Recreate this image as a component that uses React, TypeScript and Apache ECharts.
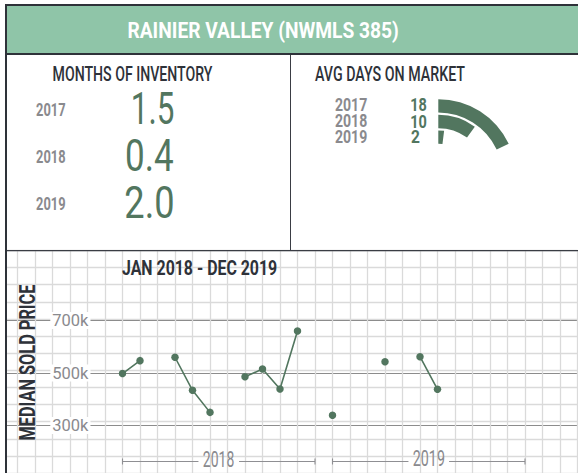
import React, { useEffect, useRef } from 'react';
import * as echarts from 'echarts';

// ---------- data ----------
const months = [
  'Jan 2018', 'Feb 2018', 'Mar 2018', 'Apr 2018', 'May 2018', 'Jun 2018',
  'Jul 2018', 'Aug 2018', 'Sep 2018', 'Oct 2018', 'Nov 2018', 'Dec 2018',
  'Jan 2019', 'Feb 2019', 'Mar 2019', 'Apr 2019', 'May 2019', 'Jun 2019',
  'Jul 2019', 'Aug 2019', 'Sep 2019', 'Oct 2019', 'Nov 2019', 'Dec 2019',
];
const medianPrice: (number | null)[] = [
  498000, 547000, null, 560000, 434000, 350000, null, 486000, 515000, 439000, 660000, null,
  339000, null, null, 543000, null, 562000, 438000, null, null, null, null, null,
];
const priceTicks = [300000, 500000, 700000];
const bracketYears = ['2018', '2019'];
const bracketSpans = [[0, 11], [12, 23]];

const inventoryYears = ['2017', '2018', '2019'];
const inventoryMonths = [1.5, 0.4, 2.0];

const domYears = ['2017', '2018', '2019'];
const domDays = [18, 10, 2];

// ---------- style ----------
const GREEN = '#52765f';
const GRAY = '#8a8a8e';
const DARK = '#2e3239';
const TITLE_BG = '#8fc5a8';
const FONT = 'Roboto';

let mctx: CanvasRenderingContext2D | null = null;
function measure(text: string, size: number, weight: string | number) {
  if (!mctx) mctx = document.createElement('canvas').getContext('2d');
  const c = mctx as CanvasRenderingContext2D;
  c.font = `${weight} ${size}px ${FONT}`;
  const m = c.measureText(text);
  const left = m.actualBoundingBoxLeft ?? 0;
  const right = m.actualBoundingBoxRight ?? m.width;
  return { left, ink: left + right || m.width };
}

function fitText(text: string, L: number, R: number, cy: number, size: number, weight: string | number, fill: string) {
  const m = measure(text, size, weight);
  const s = (R - L) / m.ink;
  return {
    type: 'text',
    x: L + m.left * s,
    y: cy,
    scaleX: s,
    z: 100,
    style: {
      text, fill, fontSize: size, fontWeight: weight, fontFamily: FONT,
      textAlign: 'left', align: 'left', textVerticalAlign: 'middle', verticalAlign: 'middle',
    },
  };
}

export default function App() {
  const ref = useRef<HTMLDivElement>(null);

  useEffect(() => {
    document.body.style.margin = '0';
    if (!ref.current) return;
    const chart = echarts.init(ref.current, null, { renderer: 'svg' });

    const leftRowsY = [109.3, 156.2, 203.8];
    const leftValBoxes = [[133, 173.3], [126.7, 173.3], [126, 173.3]];
    const rightRowsY = [104.7, 121, 136.7];

    const graphics: any[] = [
      { type: 'rect', z: 100, shape: { x: 0, y: 0, width: 5, height: 473 }, style: { fill: '#fff' } },
      { type: 'rect', z: 100, shape: { x: 5, y: 6, width: 573, height: 47 }, style: { fill: TITLE_BG } },
      { type: 'rect', z: 100, shape: { x: 5, y: 4, width: 573, height: 2 }, style: { fill: DARK } },
      { type: 'rect', z: 100, shape: { x: 5, y: 53, width: 573, height: 2 }, style: { fill: DARK } },
      { type: 'rect', z: 100, shape: { x: 5, y: 4, width: 2, height: 469 }, style: { fill: DARK } },
      { type: 'line', z: 100, shape: { x1: 290.5, y1: 55, x2: 290.5, y2: 250.5 }, style: { stroke: '#3a3d44', lineWidth: 1 } },
      { type: 'line', z: 100, shape: { x1: 7, y1: 250.6, x2: 578, y2: 250.6 }, style: { stroke: '#3a3d44', lineWidth: 1.4 } },
      fitText('RAINIER VALLEY (NWMLS 385)', 128.3, 398.3, 30.5, 22, 'bold', '#ffffff'),
      fitText('MONTHS OF INVENTORY', 53.3, 213.3, 73.8, 20, 500, DARK),
      fitText('AVG DAYS ON MARKET', 315, 465, 73.8, 20, 500, DARK),
      fitText('JAN 2018 - DEC 2019', 122, 277, 268, 20, 'bold', DARK),
    ];
    inventoryYears.forEach((y, i) => {
      graphics.push(fitText(y, 36, 65, leftRowsY[i], 18.7, 'bold', GRAY));
      graphics.push(fitText(inventoryMonths[i].toFixed(1), leftValBoxes[i][0], leftValBoxes[i][1], leftRowsY[i], 43.6, 400, GREEN));
    });
    domYears.forEach((y, i) => {
      graphics.push(fitText(y, 335, 366.7, rightRowsY[i], 18.7, 'bold', GRAY));
      const t = String(domDays[i]);
      const w = t.length === 1 ? 8.3 : 15.3;
      graphics.push(fitText(t, 411, 411 + w, rightRowsY[i], 18.7, 'bold', GREEN));
    });
    // rotated axis name
    {
      const text = 'MEDIAN SOLD PRICE';
      const m = measure(text, 21.8, 'bold');
      graphics.push({
        type: 'text', x: 27.7, y: 362.5, rotation: Math.PI / 2, scaleX: 155 / m.ink, z: 100,
        style: {
          text, fill: DARK, fontSize: 21.8, fontWeight: 'bold', fontFamily: FONT,
          textAlign: 'center', align: 'center', textVerticalAlign: 'middle', verticalAlign: 'middle',
        },
      });
    }

    const bracketLabelSize = 22;
    const lightLine = { show: true, lineStyle: { color: '#dadada', width: 1.3 } };

    const option: any = {
      animation: false,
      backgroundColor: '#ffffff',
      grid: [
        { left: 0, top: 250.5, width: 577.5, height: 227.5 },
        { left: 7, right: 0, top: 294.25, height: 157.5 },
        { left: 113.75, top: 294.25, width: 420, height: 157.5 },
      ],
      xAxis: [
        {
          gridIndex: 0, type: 'value', min: 0, max: 33, interval: 1,
          axisLine: { show: false }, axisTick: { show: false }, axisLabel: { show: false },
          splitLine: lightLine,
        },
        { gridIndex: 1, type: 'value', min: 0, max: 1, show: false },
        { gridIndex: 2, type: 'category', data: months, boundaryGap: true, show: false },
      ],
      yAxis: [
        {
          gridIndex: 0, type: 'value', min: 0, max: 13, interval: 1,
          axisLine: { show: false }, axisTick: { show: false }, axisLabel: { show: false },
          splitLine: lightLine,
        },
        {
          gridIndex: 1, type: 'value', min: 200000, max: 800000,
          axisLine: { show: false },
          axisTick: { show: false, customValues: priceTicks },
          axisLabel: {
            customValues: priceTicks,
            inside: true,
            margin: 43.3,
            color: GRAY,
            fontSize: 16.5,
            fontFamily: FONT,
            backgroundColor: '#ffffff',
            padding: [0, 2],
            formatter: (v: number) => `${Math.round(v / 1000)}k`,
          },
          splitLine: { show: true, lineStyle: { color: '#8c8c8c', width: 1.2 } },
        },
        { gridIndex: 2, type: 'value', min: 200000, max: 800000, show: false },
      ],
      polar: { center: [438.3, 177], radius: [32, 79] },
      angleAxis: { type: 'value', min: 0, max: 100, startAngle: 90, clockwise: true, show: false },
      radiusAxis: { type: 'category', data: [...domYears].reverse(), show: false },
      series: [
        {
          type: 'line',
          xAxisIndex: 2, yAxisIndex: 2,
          data: medianPrice,
          connectNulls: false,
          symbol: 'circle', symbolSize: 7.5, showSymbol: true, showAllSymbol: true,
          lineStyle: { color: GREEN, width: 1.6 },
          itemStyle: { color: GREEN },
          z: 5,
          silent: true,
        },
        {
          type: 'custom',
          xAxisIndex: 2, yAxisIndex: 2,
          encode: { x: [0, 1] },
          data: bracketSpans,
          clip: false,
          silent: true,
          renderItem: (params: any, api: any) => {
            const x0 = api.coord([api.value(0), 500000])[0];
            const x1 = api.coord([api.value(1), 500000])[0];
            const y = 461.5;
            const label = bracketYears[params.dataIndex];
            const m = measure(label, bracketLabelSize, 400);
            const s = 30.6 / m.ink;
            const cx = (x0 + x1) / 2;
            const half = 30.6 / 2 + 5;
            const st = { stroke: '#8f8f93', lineWidth: 1.1 };
            return {
              type: 'group',
              children: [
                { type: 'line', shape: { x1: x0, y1: y, x2: cx - half, y2: y }, style: st },
                { type: 'line', shape: { x1: cx + half, y1: y, x2: x1, y2: y }, style: st },
                { type: 'line', shape: { x1: x0, y1: y - 3, x2: x0, y2: y + 3 }, style: st },
                { type: 'line', shape: { x1: x1, y1: y - 3, x2: x1, y2: y + 3 }, style: st },
                {
                  type: 'text', x: cx - 15.3 + m.left * s, y: 459, scaleX: s,
                  style: {
                    text: label, fill: GRAY, fontSize: bracketLabelSize, fontFamily: FONT,
                    textAlign: 'left', align: 'left', textVerticalAlign: 'middle', verticalAlign: 'middle',
                  },
                },
              ],
            };
          },
        },
        {
          type: 'bar',
          coordinateSystem: 'polar',
          data: [...domDays].reverse(),
          barCategoryGap: '15%',
          itemStyle: { color: GREEN },
          silent: true,
        },
      ],
      graphic: { elements: graphics },
    };

    chart.setOption(option);
    return () => chart.dispose();
  }, []);

  return <div ref={ref} style={{ width: 578, height: 473 }} />;
}
